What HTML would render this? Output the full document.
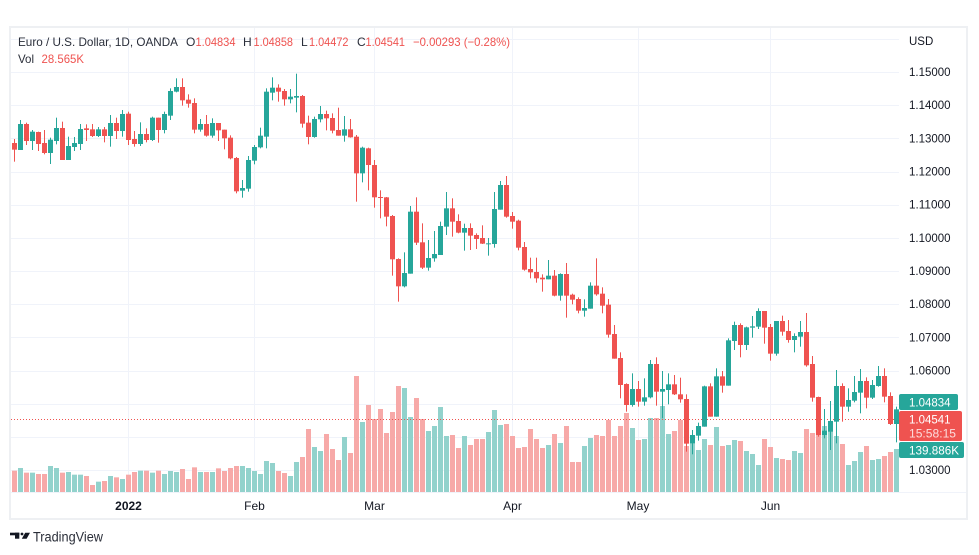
<!DOCTYPE html>
<html><head><meta charset="utf-8">
<style>
html,body{margin:0;padding:0;background:#fff;width:979px;height:555px;overflow:hidden;}
body{position:relative;font-family:"Liberation Sans",Arial,sans-serif;}
#frame{position:absolute;left:9px;top:26px;width:955px;height:490px;border:2px solid #eef0f3;}
svg{position:absolute;left:0;top:0;}
text{font-family:"Liberation Sans",Arial,sans-serif;}
</style></head>
<body>
<div id="frame"></div>
<svg width="979" height="555" viewBox="0 0 979 555" xmlns="http://www.w3.org/2000/svg">
<defs><clipPath id="pc"><rect x="11" y="28" width="888" height="464"/></clipPath></defs>
<g id="grid" stroke="#f0f3fa" stroke-width="1"></g>
<g id="vol" clip-path="url(#pc)"></g>
<line x1="11" y1="419.5" x2="899" y2="419.5" stroke="#ef5350" stroke-width="1" stroke-dasharray="1,2"/>
<g id="cdl" clip-path="url(#pc)"></g>

<text x="18" y="46" font-size="12" fill="#2a2e39" textLength="160" lengthAdjust="spacingAndGlyphs">Euro / U.S. Dollar, 1D, OANDA</text>
<text x="186" y="46" font-size="12" fill="#2a2e39">O</text>
<text x="195.5" y="46" font-size="12" fill="#ef5350" textLength="40" lengthAdjust="spacingAndGlyphs">1.04834</text>
<text x="243" y="46" font-size="12" fill="#2a2e39">H</text>
<text x="253.5" y="46" font-size="12" fill="#ef5350" textLength="39.5" lengthAdjust="spacingAndGlyphs">1.04858</text>
<text x="301" y="46" font-size="12" fill="#2a2e39">L</text>
<text x="309" y="46" font-size="12" fill="#ef5350" textLength="39.5" lengthAdjust="spacingAndGlyphs">1.04472</text>
<text x="357" y="46" font-size="12" fill="#2a2e39">C</text>
<text x="365.5" y="46" font-size="12" fill="#ef5350" textLength="39.5" lengthAdjust="spacingAndGlyphs">1.04541</text>
<text x="413" y="46" font-size="12" fill="#ef5350" textLength="97" lengthAdjust="spacingAndGlyphs">−0.00293 (−0.28%)</text>
<text x="18" y="63" font-size="12" fill="#2a2e39" textLength="16" lengthAdjust="spacingAndGlyphs">Vol</text>
<text x="41.5" y="63" font-size="12" fill="#ef5350" textLength="42.5" lengthAdjust="spacingAndGlyphs">28.565K</text>

<g font-size="11.5" fill="#131722">
<text x="909" y="45">USD</text>
<text x="909" y="76" textLength="41.5" lengthAdjust="spacingAndGlyphs">1.15000</text>
<text x="909" y="109.2" textLength="41.5" lengthAdjust="spacingAndGlyphs">1.14000</text>
<text x="909" y="142.3" textLength="41.5" lengthAdjust="spacingAndGlyphs">1.13000</text>
<text x="909" y="175.5" textLength="41.5" lengthAdjust="spacingAndGlyphs">1.12000</text>
<text x="909" y="208.7" textLength="41.5" lengthAdjust="spacingAndGlyphs">1.11000</text>
<text x="909" y="241.9" textLength="41.5" lengthAdjust="spacingAndGlyphs">1.10000</text>
<text x="909" y="275" textLength="41.5" lengthAdjust="spacingAndGlyphs">1.09000</text>
<text x="909" y="308.2" textLength="41.5" lengthAdjust="spacingAndGlyphs">1.08000</text>
<text x="909" y="341.4" textLength="41.5" lengthAdjust="spacingAndGlyphs">1.07000</text>
<text x="909" y="374.5" textLength="41.5" lengthAdjust="spacingAndGlyphs">1.06000</text>
<text x="909" y="474" textLength="41.5" lengthAdjust="spacingAndGlyphs">1.03000</text>
</g>

<rect x="899" y="394" width="59" height="16" rx="2" fill="#26a69a"/>
<text x="909" y="406.5" font-size="12" fill="#fff" textLength="41.5" lengthAdjust="spacingAndGlyphs">1.04834</text>
<rect x="899" y="411" width="63" height="30" rx="2" fill="#ef5350"/>
<text x="909" y="423.5" font-size="12" fill="#fff" textLength="41.5" lengthAdjust="spacingAndGlyphs">1.04541</text>
<text x="909" y="437.5" font-size="12" fill="#fff" fill-opacity="0.8" textLength="47" lengthAdjust="spacingAndGlyphs">15:58:15</text>
<rect x="899" y="442" width="65" height="16" rx="2" fill="#26a69a"/>
<text x="909" y="454.5" font-size="12" fill="#fff" textLength="50" lengthAdjust="spacingAndGlyphs">139.886K</text>

<g font-size="12" fill="#131722" text-anchor="middle">
<text x="128.5" y="510" font-weight="bold">2022</text>
<text x="254.5" y="510">Feb</text>
<text x="374.5" y="510">Mar</text>
<text x="512.5" y="510">Apr</text>
<text x="638" y="510">May</text>
<text x="770.5" y="510">Jun</text>
</g>

<g fill="#131722">
<rect x="10" y="532.7" width="9.3" height="2.6"/>
<rect x="15" y="532.7" width="4.3" height="6"/>
<circle cx="22" cy="534" r="1.4"/>
<polygon points="25.2,532.7 30,532.7 26.6,538.7 21.8,538.7"/>
</g>
<text x="33" y="541.5" font-size="13.5" fill="#2a2e39" textLength="70" lengthAdjust="spacingAndGlyphs">TradingView</text>
</svg>

<script>
(function(){
var D=[
0,0,210,250,220,235,-1,
1,0,222,290,234,254,1217,
2,1,165,255,177,255,1209,
3,0,173,240,177,228,1223,
4,1,195,255,200,228,1223,
5,0,200,258,201,237,1227,
6,0,195,268,234,264,1227,
7,1,218,297,224,264,1203,
8,1,158,238,189,228,1209,
9,0,170,285,189,285,1223,
10,1,215,285,243,285,1221,
11,1,216,258,234,246,1229,
12,1,177,255,192,237,1229,
13,0,178,228,190,195,1233,
14,0,177,216,193,213,1260,
15,1,186,216,193,213,1250,
16,0,186,232,193,213,1248,
17,1,150,245,174,213,1233,
18,0,158,222,174,198,1237,
19,1,135,215,147,198,1242,
20,0,140,240,146,225,1229,
21,0,198,245,222,237,1221,
22,1,172,243,207,237,1217,
23,0,190,232,207,225,1217,
24,1,155,228,158,225,1223,
25,0,158,233,158,195,1217,
26,1,140,205,147,195,1227,
27,1,70,165,78,152,1218,
28,1,40,82,66,80,1221,
29,0,40,122,66,106,1212,
30,0,88,128,104,116,1242,
31,0,100,205,114,194,1207,
32,1,162,200,177,194,1221,
33,0,150,215,177,212,1221,
34,1,160,218,174,212,1221,
35,0,174,228,174,196,1210,
36,0,194,253,194,220,1218,
37,0,211,283,218,280,1209,
38,0,276,385,279,379,1203,
39,1,345,398,369,377,1203,
40,1,273,380,285,371,1209,
41,1,240,298,246,287,1218,
42,1,188,250,212,247,1227,
43,1,70,250,80,215,1188,
44,1,37,106,68,83,1194,
45,0,58,110,68,80,1218,
46,0,72,122,78,103,1224,
47,1,72,115,95,103,1233,
48,1,26,142,93,98,1191,
49,0,90,188,93,176,1176,
50,0,152,238,173,216,1092,
51,1,155,218,162,216,1146,
52,1,123,172,147,163,1158,
53,0,137,196,147,160,1107,
54,0,145,205,159,197,1152,
55,0,128,212,195,212,1185,
56,1,153,230,193,212,1116,
57,0,162,218,193,217,1164,
58,0,210,410,215,325,933,
59,1,245,352,248,325,1071,
60,0,248,376,250,300,1020,
61,0,285,428,300,397,1062,
62,0,376,460,396,398,1032,
63,0,396,484,397,455,1104,
64,0,450,632,453,583,1041,
65,0,580,710,582,664,963,
66,1,562,667,624,664,969,
67,1,423,626,440,626,1056,
68,0,397,540,440,533,999,
69,0,475,612,532,608,1062,
70,1,525,617,579,608,1098,
71,1,498,590,567,580,1083,
72,1,470,570,483,570,1026,
73,1,381,510,430,485,1113,
74,0,400,515,430,470,1110,
75,0,448,505,468,503,1149,
76,1,476,557,489,503,1113,
77,0,475,555,489,512,1140,
78,0,505,552,510,522,1122,
79,0,481,537,519,536,1122,
80,1,519,572,535,537,1101,
81,1,381,548,432,537,1035,
82,1,348,434,360,434,1080,
83,0,333,458,360,455,1077,
84,0,441,491,453,470,1113,
85,0,464,556,467,548,1149,
86,0,531,617,546,614,1146,
87,0,578,640,612,622,1092,
88,0,578,653,621,640,1122,
89,0,628,680,638,643,1149,
90,1,585,643,632,643,1140,
91,0,615,694,632,692,1107,
92,1,625,707,627,692,1134,
93,0,594,758,627,692,1083,
94,0,686,718,689,704,1191,
95,0,697,745,702,737,1191,
96,1,703,755,729,737,1143,
97,1,652,731,662,731,1119,
98,0,580,692,662,688,1110,
99,0,667,745,686,722,1113,
100,0,702,818,719,809,1065,
101,0,780,881,807,881,1113,
102,0,862,1000,879,960,1083,
103,0,955,1040,957,1020,1044,
104,1,925,1025,972,1020,1089,
105,0,948,1025,972,1010,1125,
106,1,940,1022,997,1010,1122,
107,1,885,1000,897,997,1059,
108,0,877,1022,897,980,1059,
109,1,918,1060,972,980,1023,
110,1,925,1018,958,975,1107,
111,0,930,990,958,988,1098,
112,0,938,1013,988,1003,1065,
113,0,988,1160,1002,1136,1143,
114,1,1095,1168,1110,1136,1137,
115,1,1073,1127,1083,1112,1155,
116,1,962,1085,964,1085,1122,
117,0,955,1055,964,1055,1140,
118,1,910,1055,934,1055,1086,
119,0,918,983,934,962,1143,
120,1,820,962,826,962,1140,
121,1,770,855,780,828,1125,
122,0,775,877,780,840,1128,
123,1,785,855,787,840,1158,
124,1,753,818,784,788,1167,
125,1,730,792,738,785,1200,
126,0,738,836,738,788,1122,
127,0,777,887,786,866,1146,
128,1,768,872,768,866,1179,
129,0,752,812,768,800,1182,
130,0,765,833,798,825,1185,
131,1,805,862,813,825,1158,
132,1,768,845,801,815,1164,
133,0,744,905,801,901,1092,
134,0,873,1010,897,998,1104,
135,0,995,1115,996,1110,1098,
136,1,1032,1120,1097,1110,1083,
137,1,1008,1155,1068,1100,1098,
138,1,915,1135,963,1070,1113,
139,0,955,1070,963,1025,1137,
140,1,970,1040,1005,1025,1200,
141,1,933,1012,981,1007,1188,
142,1,912,1045,948,983,1161,
143,0,937,1030,948,998,1143,
144,1,945,1002,960,998,1185,
145,1,903,965,933,963,1182,
146,0,910,1012,933,995,1173,
147,0,982,1080,993,1077,1161,
148,1,1025,1132,1033,1077,1152
];
function Y(v){return 65+v/3;}
var NS='http://www.w3.org/2000/svg';
function R(g,x,y,w,h,f){var r=document.createElementNS(NS,'rect');r.setAttribute('x',x);r.setAttribute('y',y.toFixed(2));r.setAttribute('width',w);r.setAttribute('height',Math.max(h,1).toFixed(2));r.setAttribute('fill',f);g.appendChild(r);}
function Ln(g,x1,y1,x2,y2){var l=document.createElementNS(NS,'line');l.setAttribute('x1',x1);l.setAttribute('y1',y1);l.setAttribute('x2',x2);l.setAttribute('y2',y2);g.appendChild(l);}
var grid=document.getElementById('grid');
for(var k=-1;k<=12;k++){var gy=Math.round(72+33.17*k)+0.5;Ln(grid,11,gy,899,gy);}
[128.5,254.5,374.5,512.5,638.5,770.5].forEach(function(x){Ln(grid,x,28,x,492);});
Ln(grid,11,492.5,966,492.5);
var vol=document.getElementById('vol'),cdl=document.getElementById('cdl');
for(var i=0;i<D.length;i+=7){
 var L=D[i],g=D[i+1],wt=Y(D[i+2]),wb=Y(D[i+3]),bt=Y(D[i+4]),bb=Y(D[i+5]),v=D[i+6];
 if(v>0){var vy=Y(v);R(vol,6+6*L,vy,5,492-vy,g?'#92d2cc':'#f7a9a8');}
 var c=g?'#26a69a':'#ef5350';
 R(cdl,8+6*L,wt,1,wb-wt,c);
 R(cdl,6+6*L,bt,5,bb-bt,c);
}
})();
</script>
</body></html>
